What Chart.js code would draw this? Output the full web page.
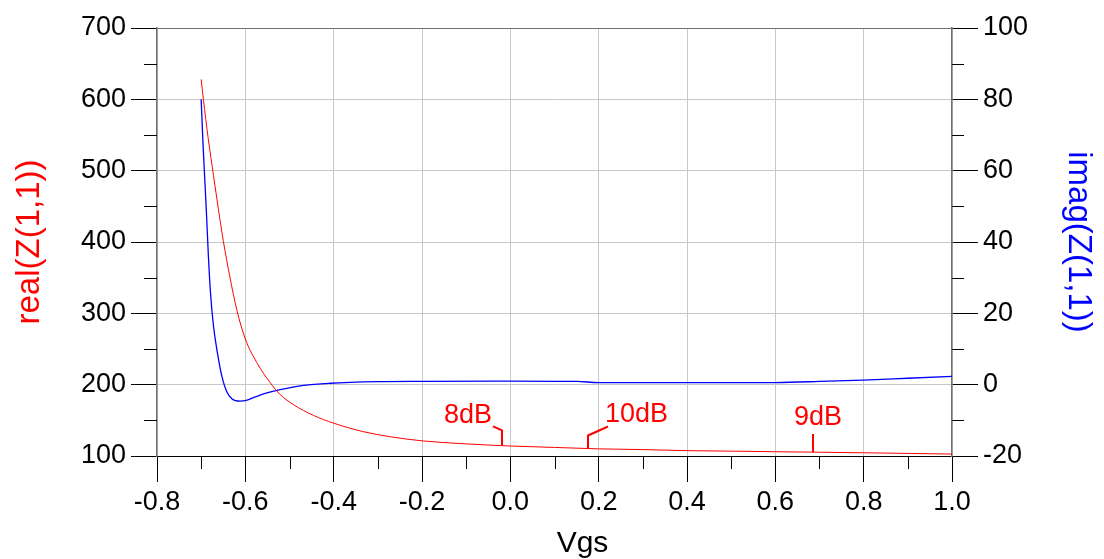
<!DOCTYPE html>
<html>
<head>
<meta charset="utf-8">
<script src="https://cdn.jsdelivr.net/npm/chart.js@4/dist/chart.umd.min.js"></script>
<style>
html,body{margin:0;padding:0;background:#fff;}
#wrap{position:relative;width:1104px;height:559px;}
</style>
</head>
<body>
<div id="wrap"><canvas id="c" width="1104" height="559"></canvas></div>
<script>
// ---- data ----
const vgsReal = [-0.700,-0.695,-0.684,-0.672,-0.661,-0.650,-0.635,-0.619,-0.600,-0.574,-0.544,-0.521,-0.491,-0.446,-0.400,-0.332,-0.272,-0.196,-0.100,0.000,0.100,0.200,0.300,0.400,0.500,0.600,0.700,0.800,0.900,1.000];
const realZ   = [628,600,545,493,446,402,351,304,264,231,203,186,172,157,146,134,127,121,117,114,112,110,109,107.5,106.8,106,105.3,104.5,103.6,102.7];

const vgsImag = [-0.700,-0.696,-0.692,-0.688,-0.684,-0.679,-0.672,-0.663,-0.653,-0.642,-0.630,-0.612,-0.598,-0.579,-0.559,-0.521,-0.468,-0.408,-0.300,-0.200,0.000,0.150,0.200,0.400,0.600,0.700,0.800,0.900,1.000];
const imagZ   = [80,68,58,48,37,26,16.3,8.8,2.3,-2.0,-4.0,-4.6,-4.4,-3.5,-2.6,-1.4,-0.2,0.4,0.85,0.95,1.0,0.9,0.6,0.55,0.6,0.9,1.3,1.8,2.3];

const markerLabels = ['8dB','10dB','9dB'];
const markerVgs    = [-0.02, 0.175, 0.685];
const markerReal   = [115, 110.5, 105.5];

const xTitle = 'Vgs';
const yTitle = 'real(Z(1,1))';
const y2Title = 'imag(Z(1,1))';

const FONT = "'Liberation Sans', Arial, sans-serif";

function pts(xs, ys){ return xs.map((x,i)=>({x:x, y:ys[i]})); }

const minorTicks = {
  id:'minorTicks',
  afterDraw(chart){
    const ctx = chart.ctx;
    const ca = chart.chartArea;
    ctx.save();
    ctx.strokeStyle = '#000';
    ctx.lineWidth = 1;
    const drawMinor = (scale, kind) => {
      const t = scale.ticks;
      for(let i=0;i<t.length-1;i++){
        const mid = (t[i].value + t[i+1].value)/2;
        const p = Math.round(scale.getPixelForValue(mid)) + 0.5;
        ctx.beginPath();
        if(kind==='left'){ ctx.moveTo(ca.left-13,p); ctx.lineTo(ca.left,p); }
        else if(kind==='right'){ ctx.moveTo(ca.right,p); ctx.lineTo(ca.right+12,p); }
        else { ctx.moveTo(p,ca.bottom); ctx.lineTo(p,ca.bottom+13); }
        ctx.stroke();
      }
    };
    drawMinor(chart.scales.y,'left');
    drawMinor(chart.scales.y2,'right');
    drawMinor(chart.scales.x,'bottom');

    // x axis title
    ctx.fillStyle = '#000';
    ctx.font = '30px ' + FONT;
    ctx.textAlign = 'center';
    ctx.textBaseline = 'alphabetic';
    ctx.fillText(xTitle, (ca.left+ca.right)/2 + 28, 552);

    // markers
    ctx.strokeStyle = '#ff0000';
    ctx.fillStyle = '#ff0000';
    ctx.lineWidth = 2;
    ctx.font = '27px ' + FONT;
    const xs = chart.scales.x, ys = chart.scales.y;
    markerLabels.forEach((lab,i)=>{
      const ax = Math.round(xs.getPixelForValue(markerVgs[i]));
      const ay = ys.getPixelForValue(markerReal[i]);
      ctx.beginPath();
      if(i===0){
        ctx.moveTo(ax, ay); ctx.lineTo(ax, ay-15); ctx.lineTo(ax-9, ay-19);
        ctx.stroke();
        ctx.textAlign='right'; ctx.fillText(lab, ax-10, ay-22);
      } else if(i===1){
        ctx.moveTo(ax, ay); ctx.lineTo(ax, ay-13); ctx.lineTo(ax+20, ay-22);
        ctx.stroke();
        ctx.textAlign='left'; ctx.fillText(lab, ax+17, ay-27);
      } else {
        ctx.moveTo(ax, ay); ctx.lineTo(ax, ay-18);
        ctx.stroke();
        ctx.textAlign='center'; ctx.fillText(lab, ax+5, ay-27);
      }
    });
    ctx.restore();
  }
};

new Chart(document.getElementById('c'), {
  type:'scatter',
  data:{
    datasets:[
      {label:'real', data:pts(vgsReal, realZ), showLine:true, borderColor:'#ff0000', borderWidth:1, pointRadius:0, yAxisID:'y', cubicInterpolationMode:'monotone'},
      {label:'imag', data:pts(vgsImag, imagZ), showLine:true, borderColor:'#0000ff', borderWidth:1.3, pointRadius:0, yAxisID:'y2', cubicInterpolationMode:'monotone'}
    ]
  },
  options:{
    responsive:false,
    animation:false,
    events:[],
    layout:{padding:{top:28,left:0,right:0,bottom:0}},
    plugins:{legend:{display:false}, tooltip:{enabled:false}},
    scales:{
      x:{
        type:'linear', min:-0.8, max:1.0,
        afterFit(s){ s.height = 103; },
        ticks:{stepSize:0.2, color:'#000', font:{family:FONT,size:27}, padding:4, maxRotation:0,
          callback:(v)=>{ const r = Math.round(v*10)/10; return (Math.abs(r)<1e-9?0:r).toFixed(1); }},
        grid:{color:'#c8c8c8', tickColor:'#000', tickLength:26, lineWidth:1},
        border:{color:'#000', width:1}
      },
      y:{
        type:'linear', position:'left', min:100, max:700,
        afterFit(s){ s.width = 157; },
        ticks:{stepSize:100, color:'#000', font:{family:FONT,size:27}, padding:5},
        grid:{color:(c)=> c.tick && c.tick.value===700 ? '#707070' : '#c8c8c8', tickColor:'#000', tickLength:26, lineWidth:1},
        border:{color:'#707070', width:1.5},
        title:{display:true, text:yTitle, color:'#ff0000', font:{family:FONT,size:33}, padding:{top:10,bottom:0}}
      },
      y2:{
        type:'linear', position:'right', min:-20, max:100,
        afterFit(s){ s.width = 152; },
        ticks:{stepSize:20, color:'#000', font:{family:FONT,size:27}, padding:5},
        grid:{drawOnChartArea:false, tickColor:'#000', tickLength:26},
        border:{color:'#707070', width:1.5},
        title:{display:true, text:y2Title, color:'#0000ff', font:{family:FONT,size:33}, padding:{top:6,bottom:0}}
      }
    }
  },
  plugins:[minorTicks]
});
</script>
</body>
</html>
